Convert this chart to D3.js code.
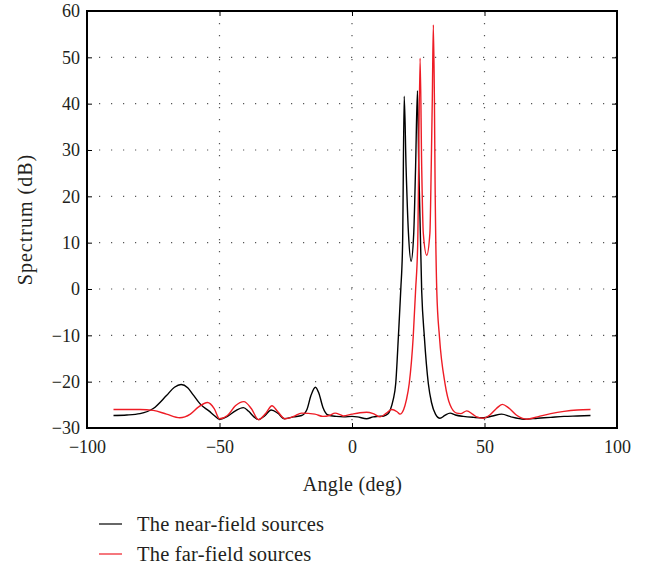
<!DOCTYPE html>
<html><head><meta charset="utf-8">
<script src="https://cdn.jsdelivr.net/npm/d3@7/dist/d3.min.js"></script>
<style>body{margin:0;background:#fff}svg{display:block}text{font-family:"Liberation Serif","DejaVu Serif",serif;fill:#231f20}</style>
</head><body><svg id="c" width="655" height="566"></svg>
<script>
const xTicks = [-100, -50, 0, 50, 100];
const yTicks = [-30, -20, -10, 0, 10, 20, 30, 40, 50, 60];
const seriesNames = ["The near-field sources", "The far-field sources"];
const seriesColors = ["#000000", "#ee1c25"];
const nearAngles = [-90,-85,-80,-75,-70,-67,-64.5,-62,-60,-57,-54,-52,-50,-47,-44,-41,-39,-37,-35.3,-33,-30.5,-28,-25.5,-22,-19,-17,-15.5,-13.8,-12.5,-11,-9,-6,-3,0,2,5.5,8,10,12,13.5,14.5,15.5,16.5,17.5,18.4,19.1,19.7,20.4,21.3,22.3,23.3,24.0,24.7,25.2,26.3,27.3,28.8,30,31.5,33.2,35,37,39,42,46,49.6,53,56.5,60,65,70,75,80,85,90];
const nearValues = [-27.3,-27.2,-26.9,-25.8,-23.0,-21.2,-20.6,-21.3,-22.8,-25.0,-26.3,-27.3,-28.1,-27.5,-26.3,-25.6,-26.4,-27.6,-28.2,-27.4,-26.1,-26.8,-28.0,-27.6,-27.3,-26.0,-23.0,-21.2,-22.5,-25.5,-27.2,-27.5,-27.6,-27.5,-27.6,-28.0,-27.6,-27.5,-27.4,-27.0,-26.0,-24.0,-20.4,-10.3,-0.2,9.9,41.6,26.4,12.1,6.0,12.1,26.4,42.8,26.4,-0.5,-10.3,-20.4,-24.5,-27.0,-27.9,-27.3,-26.8,-27.2,-27.5,-27.7,-27.8,-27.4,-27.0,-27.6,-28.1,-27.9,-27.7,-27.5,-27.4,-27.3];
const farAngles = [-90,-85,-80,-75,-70,-65,-61,-58,-54.5,-52,-50,-47,-44,-40.8,-38,-35.3,-32.5,-30.2,-28,-25.3,-22,-19,-14,-11,-8.5,-6.4,-4.5,-3.3,0,3,5.5,8,10.6,13,15,17,18.1,19.5,20.5,21.6,23.1,24,24.8,25.7,26.3,26.9,28.2,29.4,29.9,30.3,30.7,31.1,31.3,32.0,33,35.1,37,39.5,41,43.3,45.5,47,49.6,52,54.5,56.7,59,62,65.9,70,75,80,85,90];
const farValues = [-26.0,-26.0,-26.0,-26.2,-27.0,-27.8,-27.0,-25.5,-24.5,-25.8,-28.0,-27.3,-25.2,-24.3,-25.8,-28.2,-26.8,-25.2,-26.5,-28.0,-27.5,-26.8,-27.0,-27.5,-27.3,-26.8,-27.1,-27.4,-27.0,-26.7,-26.6,-26.9,-27.6,-26.8,-26.0,-26.5,-27.0,-26.0,-24.0,-20.4,-10.3,-0.2,9.9,49.8,26.4,12.1,7.3,12.1,26.4,40.8,57.0,40.8,26.4,-0.5,-10.3,-20.4,-25.0,-26.8,-26.9,-26.3,-27.0,-27.6,-27.9,-27.2,-25.8,-24.9,-25.6,-27.2,-28.1,-27.6,-26.9,-26.4,-26.1,-26.0];

const svg = d3.select("#c");
const L = 87, R = 617, T = 11, B = 428;
const x = d3.scaleLinear().domain([-100, 100]).range([L, R]);
const y = d3.scaleLinear().domain([-30, 60]).range([B, T]);

// grid
const g = svg.append("g");
g.selectAll(".gx").data(xTicks.slice(1, -1)).enter().append("line")
  .attr("x1", d => x(d)).attr("x2", d => x(d)).attr("y1", T).attr("y2", B)
  .attr("stroke", "#555").attr("stroke-width", 1.2).attr("stroke-dasharray", "1.2,10.8");
g.selectAll(".gy").data(yTicks.slice(1, -1)).enter().append("line")
  .attr("y1", d => y(d)).attr("y2", d => y(d)).attr("x1", L).attr("x2", R)
  .attr("stroke", "#555").attr("stroke-width", 1.2).attr("stroke-dasharray", "1.2,10.8");

// lines
const line = d3.line().x(d => x(d[0])).y(d => y(d[1])).curve(d3.curveMonotoneX);
const nearData = nearAngles.map((a, i) => [a, nearValues[i]]);
const farData = farAngles.map((a, i) => [a, farValues[i]]);
svg.append("path").datum(nearData).attr("d", line).attr("fill", "none").attr("stroke", seriesColors[0]).attr("stroke-width", 1.4);
svg.append("path").datum(farData).attr("d", line).attr("fill", "none").attr("stroke", seriesColors[1]).attr("stroke-width", 1.4);

// axes
const fmt = d => d < 0 ? "\u2212" + Math.abs(d) : d;
const ax = svg.append("g").attr("transform", `translate(0,${B})`).call(d3.axisBottom(x).tickValues(xTicks).tickSizeInner(-5).tickSizeOuter(0).tickPadding(12).tickFormat(fmt));
const ay = svg.append("g").attr("transform", `translate(${L},0)`).call(d3.axisLeft(y).tickValues(yTicks).tickSizeInner(-5).tickSizeOuter(0).tickPadding(7).tickFormat(fmt));
const at = svg.append("g").attr("transform", `translate(0,${T})`).call(d3.axisTop(x).tickValues(xTicks).tickSizeInner(-5).tickSizeOuter(0).tickFormat(""));
const ar = svg.append("g").attr("transform", `translate(${R},0)`).call(d3.axisRight(y).tickValues(yTicks).tickSizeInner(-5).tickSizeOuter(0).tickFormat(""));
[ax, ay, at, ar].forEach(a => {
  a.select(".domain").remove();
  a.selectAll("line").attr("stroke", "#000").attr("stroke-width", 1);
  a.selectAll("text").attr("font-size", "18px").attr("font-family", "Liberation Serif, serif").attr("fill", "#231f20");
});
svg.append("rect").attr("x", L).attr("y", T).attr("width", R - L).attr("height", B - T)
  .attr("fill", "none").attr("stroke", "#000").attr("stroke-width", 2);

svg.append("text").attr("x", 352.5).attr("y", 491).attr("text-anchor", "middle").attr("font-size", "20px").attr("letter-spacing", "0.3px").text("Angle (deg)");
svg.append("text").attr("transform", `translate(32,${(T + B) / 2}) rotate(-90)`).attr("text-anchor", "middle").attr("font-size", "20px").attr("letter-spacing", "1px").text("Spectrum (dB)");

// legend
const lg = svg.append("g");
seriesNames.forEach((n, i) => {
  const yy = 524 + i * 30;
  lg.append("line").attr("x1", 99).attr("x2", 122).attr("y1", yy).attr("y2", yy).attr("stroke", seriesColors[i]).attr("stroke-width", 1.2);
  lg.append("text").attr("x", 137).attr("y", yy + 7).attr("font-size", "20.5px").attr("letter-spacing", "0.2px").text(n);
});
</script></body></html>
